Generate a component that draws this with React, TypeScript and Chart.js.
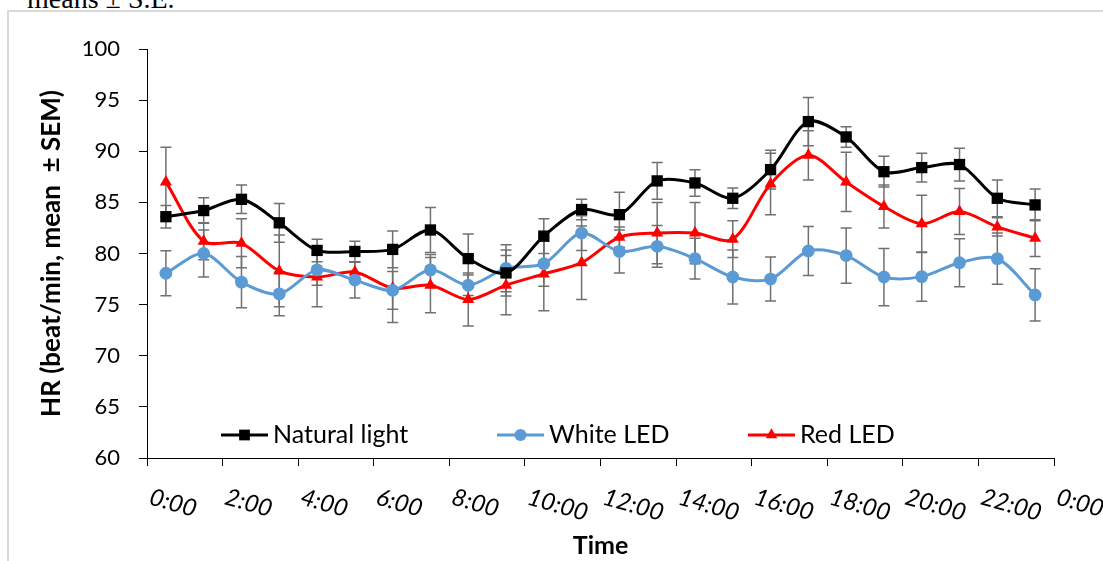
import React, { useEffect, useRef } from "react";
import { Chart, registerables } from "chart.js";

Chart.register(...registerables);

// Time of day (hour midpoints) at which HR was averaged
const TIME_POINTS = [0.5, 1.5, 2.5, 3.5, 4.5, 5.5, 6.5, 7.5, 8.5, 9.5, 10.5, 11.5, 12.5, 13.5, 14.5, 15.5, 16.5, 17.5, 18.5, 19.5, 20.5, 21.5, 22.5, 23.5];
const TICK_VALUES = [0, 2, 4, 6, 8, 10, 12, 14, 16, 18, 20, 22, 24];
const TICK_LABELS = ["0:00", "2:00", "4:00", "6:00", "8:00", "10:00", "12:00", "14:00", "16:00", "18:00", "20:00", "22:00", "0:00"];

const SERIES_NAMES = ["Natural light", "White LED", "Red LED"];

const NATURAL_LIGHT = [83.6, 84.2, 85.3, 83.0, 80.3, 80.2, 80.4, 82.3, 79.5, 78.1, 81.7, 84.3, 83.8, 87.1, 86.9, 85.4, 88.2, 92.9, 91.4, 88.0, 88.4, 88.7, 85.4, 84.75];
const NATURAL_LIGHT_SEM = [1.1, 1.25, 1.4, 1.9, 1.1, 1.0, 1.8, 2.2, 2.4, 2.25, 1.7, 1.0, 2.2, 1.8, 1.3, 1.0, 1.9, 2.35, 1.0, 1.5, 1.4, 1.6, 1.8, 1.55];

const WHITE_LED = [78.07, 80.0, 77.2, 76.05, 78.4, 77.4, 76.4, 78.4, 76.9, 78.55, 79.0, 82.0, 80.2, 80.7, 79.5, 77.7, 77.5, 80.25, 79.8, 77.7, 77.74, 79.1, 79.5, 75.95];
const WHITE_LED_SEM = [2.2, 2.3, 2.5, 2.15, 1.5, 1.75, 1.85, 1.5, 1.0, 2.3, 2.2, 1.7, 2.1, 2.05, 2.0, 2.65, 2.15, 2.4, 2.7, 2.8, 2.4, 2.35, 2.5, 2.55];

const RED_LED = [87.0, 81.2, 81.0, 78.3, 77.7, 78.2, 76.6, 76.9, 75.5, 76.9, 78.0, 79.1, 81.6, 82.0, 82.0, 81.4, 86.8, 89.6, 87.0, 84.6, 82.9, 84.1, 82.6, 81.5];
const RED_LED_SEM = [3.4, 1.8, 2.4, 3.5, 2.9, 1.0, 3.35, 2.7, 2.6, 2.9, 3.6, 3.6, 1.0, 3.0, 3.0, 1.8, 3.0, 2.4, 2.9, 2.1, 2.8, 2.25, 0.9, 1.8];

const SERIES_VALUES = [NATURAL_LIGHT, WHITE_LED, RED_LED];
const SERIES_SEM = [NATURAL_LIGHT_SEM, WHITE_LED_SEM, RED_LED_SEM];
const SERIES_COLORS = ["#000000", "#5B9BD5", "#FF0000"];
const SERIES_POINT_STYLES = ["rect", "circle", "triangle"];
const SERIES_POINT_RADIUS = [8, 6.4, 7];

const Y_TITLE = "HR (beat/min, mean  \u00B1 SEM)";
const X_TITLE = "Time";
const CAPTION = "means \u00B1 S.E.";

const FONT = "Lato";

function drawMarker(ctx: CanvasRenderingContext2D, style: string, x: number, y: number, r: number) {
  ctx.beginPath();
  if (style === "rect") {
    const s = Math.SQRT1_2 * r;
    ctx.rect(x - s, y - s, 2 * s, 2 * s);
  } else if (style === "circle") {
    ctx.arc(x, y, r, 0, Math.PI * 2);
  } else {
    let rad = 0;
    ctx.moveTo(x + Math.sin(rad) * r, y - Math.cos(rad) * r);
    rad += (2 * Math.PI) / 3;
    ctx.lineTo(x + Math.sin(rad) * r, y - Math.cos(rad) * r);
    rad += (2 * Math.PI) / 3;
    ctx.lineTo(x + Math.sin(rad) * r, y - Math.cos(rad) * r);
    ctx.closePath();
  }
  ctx.fill();
}

const errorBarPlugin = {
  id: "errorBars",
  beforeDatasetsDraw(chart: any) {
    const ctx = chart.ctx;
    const ys = chart.scales.y;
    ctx.save();
    ctx.strokeStyle = "#707070";
    ctx.lineWidth = 1.5;
    chart.data.datasets.forEach((ds: any, i: number) => {
      const meta = chart.getDatasetMeta(i);
      const sem = SERIES_SEM[i];
      meta.data.forEach((pt: any, j: number) => {
        const v = ds.data[j].y;
        const top = ys.getPixelForValue(v + sem[j]);
        const bot = ys.getPixelForValue(v - sem[j]);
        const x = pt.x;
        ctx.beginPath();
        ctx.moveTo(x, top);
        ctx.lineTo(x, bot);
        ctx.moveTo(x - 5.5, top);
        ctx.lineTo(x + 5.5, top);
        ctx.moveTo(x - 5.5, bot);
        ctx.lineTo(x + 5.5, bot);
        ctx.stroke();
      });
    });
    ctx.restore();
  },
};

const LEGEND_ITEMS_X = [221, 497, 748];

const overlayPlugin = {
  id: "overlay",
  afterDraw(chart: any) {
    const ctx = chart.ctx;
    const xs = chart.scales.x;
    // rotated, italic x tick labels
    ctx.save();
    ctx.font = `italic 24px ${FONT}`;
    ctx.fillStyle = "#000";
    ctx.textAlign = "left";
    ctx.textBaseline = "alphabetic";
    TICK_VALUES.forEach((v, i) => {
      const x = xs.getPixelForValue(v);
      ctx.save();
      ctx.translate(x + 1, xs.top + 46);
      ctx.rotate((16 * Math.PI) / 180);
      ctx.fillText(TICK_LABELS[i], 0, 0);
      ctx.restore();
    });
    ctx.restore();

    // legend inside plot area
    ctx.save();
    const ly = 435;
    ctx.font = `25px ${FONT}`;
    ctx.textBaseline = "middle";
    ctx.textAlign = "left";
    SERIES_NAMES.forEach((name, i) => {
      const x0 = LEGEND_ITEMS_X[i];
      const x1 = x0 + 47;
      ctx.strokeStyle = SERIES_COLORS[i];
      ctx.fillStyle = SERIES_COLORS[i];
      ctx.lineWidth = 3;
      ctx.beginPath();
      ctx.moveTo(x0, ly);
      ctx.lineTo(x1, ly);
      ctx.stroke();
      drawMarker(ctx, SERIES_POINT_STYLES[i], (x0 + x1) / 2, ly, SERIES_POINT_RADIUS[i] * 0.95);
      ctx.fillStyle = "#000";
      ctx.fillText(name, x1 + 5, ly);
    });
    ctx.restore();
  },
};

export default function App() {
  const canvasRef = useRef<HTMLCanvasElement | null>(null);

  useEffect(() => {
    if (!canvasRef.current) return;
    const datasets = SERIES_NAMES.map((name, i) => ({
      label: name,
      data: TIME_POINTS.map((t, j) => ({ x: t, y: SERIES_VALUES[i][j] })),
      borderColor: SERIES_COLORS[i],
      backgroundColor: SERIES_COLORS[i],
      pointBackgroundColor: SERIES_COLORS[i],
      pointBorderColor: SERIES_COLORS[i],
      pointBorderWidth: 0,
      pointStyle: SERIES_POINT_STYLES[i],
      pointRadius: SERIES_POINT_RADIUS[i],
      borderWidth: 3,
      tension: 0.3,
      fill: false,
    }));

    const chart = new Chart(canvasRef.current, {
      type: "line",
      data: { datasets },
      options: {
        animation: false,
        responsive: false,
        devicePixelRatio: 1,
        layout: { padding: { left: 0, right: 49, top: 49, bottom: 0 } },
        plugins: {
          legend: { display: false },
          tooltip: { enabled: false },
        },
        scales: {
          x: {
            type: "linear",
            min: 0,
            max: 24,
            ticks: { display: false, stepSize: 2 },
            grid: { display: true, drawOnChartArea: false, drawTicks: true, tickLength: 8, color: "#000", lineWidth: 1 },
            border: { display: true, color: "#000", width: 1 },
            title: {
              display: true,
              text: X_TITLE,
              color: "#000",
              font: { family: FONT, size: 25, weight: "bold" },
              padding: { top: 0, bottom: 0 },
            },
            afterFit: (scale: any) => {
              scale.height = 103;
            },
          },
          y: {
            min: 60,
            max: 100,
            ticks: { stepSize: 5, color: "#000", padding: 19, font: { family: FONT, size: 22 } },
            grid: { display: true, drawOnChartArea: false, drawTicks: true, tickLength: 8, color: "#000", lineWidth: 1 },
            border: { display: true, color: "#000", width: 1 },
            title: {
              display: true,
              text: Y_TITLE,
              color: "#000",
              font: { family: FONT, size: 26, weight: "bold" },
              padding: { top: 36, bottom: 0 },
            },
            afterFit: (scale: any) => {
              scale.width = 147;
            },
          },
        },
      },
      plugins: [errorBarPlugin, overlayPlugin],
    });
    return () => chart.destroy();
  }, []);

  return (
    <div style={{ position: "absolute", left: 0, top: 0, width: 1103, height: 561, overflow: "hidden", background: "#fff" }}>
      <div
        style={{
          position: "absolute",
          left: 27,
          top: -15,
          fontFamily: "'Liberation Serif', serif",
          fontSize: 28,
          lineHeight: "28px",
          whiteSpace: "nowrap",
          color: "#000",
        }}
      >
        {CAPTION}
      </div>
      <div
        style={{
          position: "absolute",
          left: 7,
          top: 10,
          width: 1110,
          height: 600,
          borderLeft: "2px solid #d9d9d9",
          borderTop: "2px solid #d9d9d9",
        }}
      />
      <canvas ref={canvasRef} width={1103} height={561} style={{ position: "absolute", left: 0, top: 0 }} />
    </div>
  );
}
